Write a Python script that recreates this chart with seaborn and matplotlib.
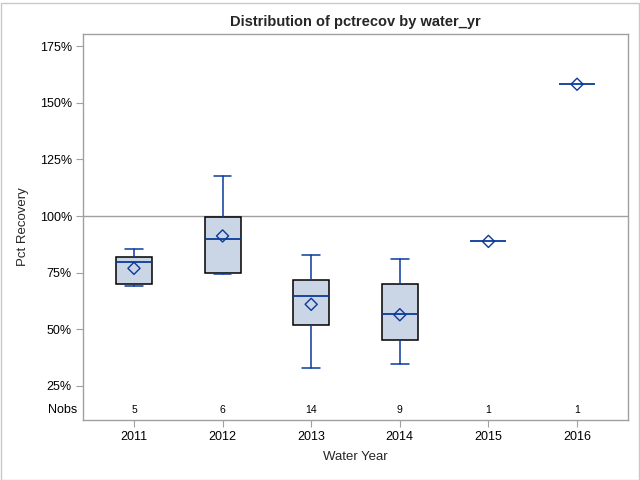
import matplotlib
matplotlib.use("Agg")
import matplotlib.pyplot as plt
import seaborn as sns
import pandas as pd
from matplotlib.patches import Rectangle
from matplotlib.ticker import FuncFormatter

years = ["2011", "2012", "2013", "2014", "2015", "2016"]
nobs = [5, 6, 14, 9, 1, 1]
whisker_low = [69.1, 74.4, 32.9, 34.6, 88.8, 158.2]
q1 = [69.8, 74.7, 51.7, 45.2, 88.8, 158.2]
median = [79.5, 89.7, 64.5, 56.7, 88.8, 158.2]
q3 = [81.8, 99.7, 71.6, 70.0, 88.8, 158.2]
whisker_high = [85.3, 117.7, 82.6, 80.9, 88.8, 158.2]
mean = [76.9, 91.2, 61.0, 56.4, 88.8, 158.2]

yticks = [25, 50, 75, 100, 125, 150, 175]

sns.set_theme(style="white")
plt.rcParams["font.family"] = ["Liberation Sans", "DejaVu Sans"]

fill = "#CAD5E5"
line = "#0B3A9A"
frame = "#A0A0A0"

fig = plt.figure(figsize=(6.4, 4.8), dpi=100)
ax = fig.add_axes([83 / 640, 1 - 420 / 480, (628 - 83) / 640, (420 - 34) / 480])

stats = []
for i in range(len(years)):
    stats.append(dict(whislo=whisker_low[i], q1=q1[i], med=median[i], q3=q3[i],
                      whishi=whisker_high[i], mean=mean[i], fliers=[], label=years[i]))

single = [n == 1 for n in nobs]
multi_stats = [s for s, one in zip(stats, single) if not one]
multi_pos = [i for i, one in enumerate(single) if not one]
ax.bxp(multi_stats, positions=multi_pos, widths=0.405, patch_artist=True,
       showmeans=False, showcaps=True,
       boxprops=dict(facecolor=fill, edgecolor="black", linewidth=1.1),
       medianprops=dict(color=line, linewidth=1.3),
       whiskerprops=dict(color=line, linewidth=1.1),
       capprops=dict(color=line, linewidth=1.1),
       capwidths=0.2, manage_ticks=False, zorder=3)

# single observations: just a median line
for i, one in enumerate(single):
    if one:
        ax.hlines(median[i], i - 0.2025, i + 0.2025, color=line, linewidth=1.3, zorder=3)

df = pd.DataFrame({"pos": range(len(years)), "mean": mean})
sns.scatterplot(data=df, x="pos", y="mean", ax=ax, marker="D", s=38,
                facecolor="none", edgecolor=line, linewidth=1.0, zorder=5)

ax.axhline(100, color=frame, linewidth=1.0, zorder=1)

ax.set_xlim(-0.575, 5.575)
ax.set_ylim(9.9, 180.4)
ax.set_xticks(range(len(years)))
ax.set_xticklabels(years)
ax.set_yticks(yticks)
ax.yaxis.set_major_formatter(FuncFormatter(lambda v, p: f"{int(v)}%"))
ax.tick_params(axis="both", which="major", direction="out", length=5, width=0.8,
               color=frame, labelsize=9, labelcolor="black", pad=3,
               left=True, bottom=True)
for sp in ax.spines.values():
    sp.set_color(frame)
    sp.set_linewidth(1.0)

for i, n in enumerate(nobs):
    ax.text(i, 14.3, str(n), ha="center", va="center", fontsize=7.5, color="black")
ax.text(-0.01, 14.3, "Nobs", transform=ax.get_yaxis_transform(), ha="right",
        va="center", fontsize=9, color="black")

ax.set_xlabel("Water Year", fontsize=9.5, labelpad=6)
ax.set_ylabel("Pct Recovery", fontsize=9.5, labelpad=8)
ax.set_title("Distribution of pctrecov by water_yr", fontsize=10.5,
             fontweight="bold", pad=6)

fig.patches.append(Rectangle((0.5 / 640, 0.5 / 480), 638.5 / 640, 477 / 480,
                             transform=fig.transFigure, fill=False,
                             edgecolor="#C8C8C8", linewidth=1.0))

fig.savefig("out.png", dpi=100)
